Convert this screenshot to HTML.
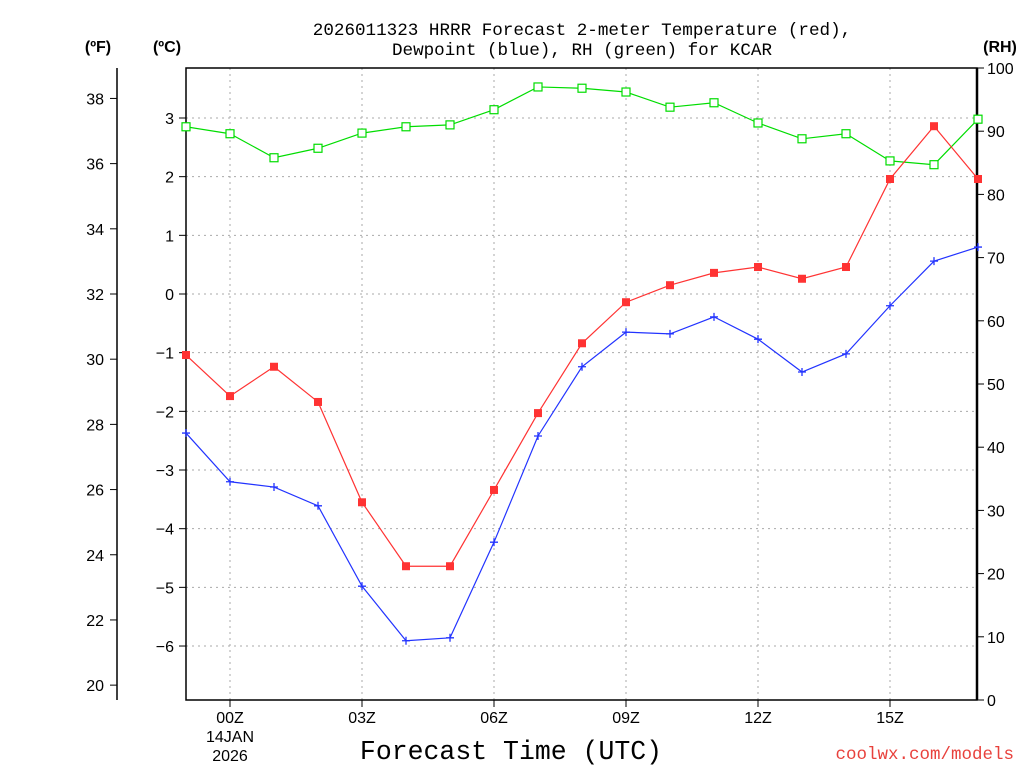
<!DOCTYPE html>
<html><head><meta charset="utf-8"><style>
html,body{margin:0;padding:0;background:#fff;}
svg text{font-family:"Liberation Sans",sans-serif;}
svg text.mono{font-family:"Liberation Mono",monospace;}
</style></head><body>
<svg id="chart" width="1024" height="768" viewBox="0 0 1024 768" xmlns="http://www.w3.org/2000/svg">
<text class="mono" x="582" y="35" text-anchor="middle" font-size="17.6">2026011323 HRRR Forecast 2-meter Temperature (red),</text>
<text class="mono" x="582" y="55" text-anchor="middle" font-size="17.6">Dewpoint (blue), RH (green) for KCAR</text>
<text x="98" y="52" text-anchor="middle" font-size="16" font-weight="bold">(ºF)</text>
<text x="167" y="52" text-anchor="middle" font-size="16" font-weight="bold">(ºC)</text>
<text x="1000" y="52" text-anchor="middle" font-size="16" font-weight="bold">(RH)</text>
<text class="mono" x="511" y="759" text-anchor="middle" font-size="26.5">Forecast Time (UTC)</text>
<text class="mono" x="1014" y="759" text-anchor="end" font-size="17.5" fill="#e8413c">coolwx.com/models</text>
<g id="grid"></g><g id="axes"></g><g id="series"></g>
</svg>
<script>
const hours=[-1,0,1,2,3,4,5,6,7,8,9,10,11,12,13,14,15,16,17];
const tempC=[-1.04,-1.74,-1.24,-1.84,-3.55,-4.64,-4.64,-3.34,-2.03,-0.84,-0.14,0.15,0.36,0.46,0.26,0.46,1.96,2.86,1.96];
const dewC=[-2.37,-3.2,-3.29,-3.61,-4.98,-5.91,-5.86,-4.23,-2.42,-1.24,-0.65,-0.68,-0.39,-0.77,-1.33,-1.02,-0.2,0.56,0.8];
const rh=[90.7,89.6,85.8,87.3,89.7,90.7,91,93.4,97,96.8,96.2,93.8,94.5,91.3,88.8,89.6,85.3,84.7,91.9];
const cTicks=[3,2,1,0,-1,-2,-3,-4,-5,-6];
const fTicks=[38,36,34,32,30,28,26,24,22,20];
const rhTicks=[0,10,20,30,40,50,60,70,80,90,100];
const xTicks=[0,3,6,9,12,15];
const xLabels=["00Z","03Z","06Z","09Z","12Z","15Z"];

const L=186,R=977,T=68,B=700;
const xS=h=>230+44*h;
const yC=c=>294-58.67*c;
const yF=f=>yC((f-32)*5/9);
const yRH=v=>B-(B-T)*v/100;
const NS="http://www.w3.org/2000/svg";
function mk(tag,attrs,parent,text){const e=document.createElementNS(NS,tag);for(const k in attrs)e.setAttribute(k,attrs[k]);if(text!==undefined)e.textContent=text;parent.appendChild(e);return e;}
const grid=document.getElementById('grid'),axes=document.getElementById('axes'),ser=document.getElementById('series');

xTicks.forEach((h,i)=>{
 const g=mk('line',{x1:xS(h),x2:xS(h),y1:T,y2:B,stroke:'#aaa','stroke-dasharray':'2,4'},grid);
 
 
 const t=mk('line',{x1:xS(h),x2:xS(h),y1:B,y2:B+7,stroke:'#000'},axes);
 
 
 const l=mk('text',{x:xS(h),y:723,'text-anchor':'middle','font-size':16},axes,xLabels[i]);
 
 
});
const d1=mk('text',{x:230,y:742,'text-anchor':'middle','font-size':16},axes,'14JAN');


const d2=mk('text',{x:230,y:761,'text-anchor':'middle','font-size':16},axes,'2026');



cTicks.forEach(c=>{
 const g=mk('line',{x1:L,x2:R,y1:yC(c),y2:yC(c),stroke:'#aaa','stroke-dasharray':'2,4'},grid);
 
 
 const t=mk('line',{x1:L-7,x2:L,y1:yC(c),y2:yC(c),stroke:'#000'},axes);
 
 
 const l=mk('text',{x:L-12,y:yC(c)+6,'text-anchor':'end','font-size':16},axes,(c<0?'\u2212':'')+Math.abs(c));
 
 
});
fTicks.forEach(f=>{
 const t=mk('line',{x1:110,x2:117,y1:yF(f),y2:yF(f),stroke:'#000'},axes);
 
 
 const l=mk('text',{x:104,y:yF(f)+6,'text-anchor':'end','font-size':16},axes,f);
 
 
});
const fa=mk('line',{x1:117,x2:117,y1:T,y2:B,stroke:'#000','stroke-width':1.5},axes);


rhTicks.forEach(v=>{
 const t=mk('line',{x1:R,x2:R+7,y1:yRH(v),y2:yRH(v),stroke:'#000'},axes);
 
 
 const l=mk('text',{x:R+10,y:yRH(v)+6,'text-anchor':'start','font-size':16},axes,v);
 
 
});
const fr=mk('rect',{x:L,y:T,width:R-L,height:B-T,fill:'none',stroke:'#000','stroke-width':1.5},axes);


const ra=mk('line',{x1:R,x2:R,y1:T,y2:B,stroke:'#000','stroke-width':2.5},axes);



function line(vals,ys,color,name){
 const pts=vals.map((v,i)=>xS(hours[i])+','+ys(v)).join(' ');
 const p=mk('polyline',{points:pts,fill:'none',stroke:color,'stroke-width':1.2},ser);
 
 
}
line(rh,yRH,'#00dd00','rh');
line(tempC,yC,'#ff3333','temperature');
line(dewC,yC,'#2233ff','dewpoint');
rh.forEach((v,i)=>{
 const m=mk('rect',{x:xS(hours[i])-4,y:yRH(v)-4,width:8,height:8,fill:'#fff',stroke:'#00dd00','stroke-width':1.2},ser);
 
 
});
tempC.forEach((v,i)=>{
 const m=mk('rect',{x:xS(hours[i])-4,y:yC(v)-4,width:8,height:8,fill:'#ff3333'},ser);
 
 
});
dewC.forEach((v,i)=>{
 const x=xS(hours[i]),y=yC(v);
 const m=mk('path',{d:`M${x-4},${y}H${x+4}M${x},${y-4}V${y+4}`,stroke:'#2233ff','stroke-width':1.3},ser);
 
 
});
</script>
</body></html>
